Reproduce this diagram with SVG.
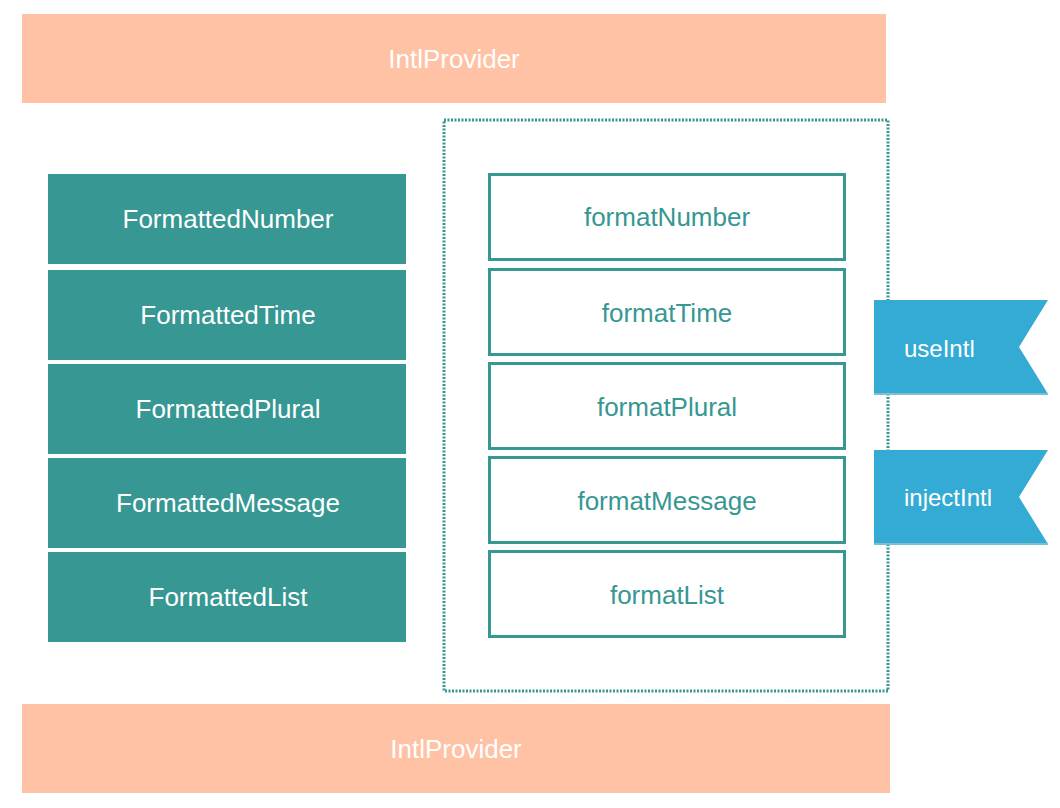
<svg xmlns="http://www.w3.org/2000/svg" width="1060" height="808" viewBox="0 0 1060 808">
<style>
text{font-family:"Liberation Sans",Arial,sans-serif;font-size:26px;text-anchor:middle;dominant-baseline:central}
.prov{fill:#FFC2A5}
.prov-t{fill:#ffffff}
.comp{fill:#369793}
.comp-t{fill:#ffffff}
.fn{fill:#ffffff;stroke:#369793;stroke-width:3}
.fn-t{fill:#369793}
.rib{fill:#33ABD5}
.rib-t{fill:#ffffff;text-anchor:start;font-size:24px}
.dash{fill:none;stroke:#369793;stroke-width:3;stroke-dasharray:2 1.5}
</style>
<rect width="1060" height="808" fill="#ffffff"/>
<g id="provider-top"><rect class="prov" x="22" y="14" width="864" height="89"/><text class="prov-t" x="454" y="59">IntlProvider</text></g>
<g id="provider-bottom"><rect class="prov" x="22" y="704" width="868" height="89"/><text class="prov-t" x="456" y="749">IntlProvider</text></g>
<g id="imperative-api"><rect class="dash" x="444" y="120" width="444" height="571"/></g>
<g id="FormattedNumber"><rect class="comp" x="48" y="174" width="358" height="90"/><text class="comp-t" x="228" y="219">FormattedNumber</text></g>
<g id="FormattedTime"><rect class="comp" x="48" y="270" width="358" height="90"/><text class="comp-t" x="228" y="315">FormattedTime</text></g>
<g id="FormattedPlural"><rect class="comp" x="48" y="364" width="358" height="90"/><text class="comp-t" x="228" y="409">FormattedPlural</text></g>
<g id="FormattedMessage"><rect class="comp" x="48" y="458" width="358" height="90"/><text class="comp-t" x="228" y="503">FormattedMessage</text></g>
<g id="FormattedList"><rect class="comp" x="48" y="552" width="358" height="90"/><text class="comp-t" x="228" y="597">FormattedList</text></g>
<g id="formatNumber"><rect class="fn" x="489.5" y="174.5" width="355" height="85"/><text class="fn-t" x="667" y="217">formatNumber</text></g>
<g id="formatTime"><rect class="fn" x="489.5" y="269.5" width="355" height="85"/><text class="fn-t" x="667" y="313">formatTime</text></g>
<g id="formatPlural"><rect class="fn" x="489.5" y="363.5" width="355" height="85"/><text class="fn-t" x="667" y="407">formatPlural</text></g>
<g id="formatMessage"><rect class="fn" x="489.5" y="457.5" width="355" height="85"/><text class="fn-t" x="667" y="501">formatMessage</text></g>
<g id="formatList"><rect class="fn" x="489.5" y="551.5" width="355" height="85"/><text class="fn-t" x="667" y="595">formatList</text></g>
<g id="useIntl"><polygon class="rib" points="874,300 1048,300 1019,347 1048,394 874,394"/><rect x="874" y="393" width="174" height="2" fill="#7FBFC9"/><text class="rib-t" x="904" y="348">useIntl</text></g>
<g id="injectIntl"><polygon class="rib" points="874,450 1048,450 1019,497 1048,544 874,544"/><rect x="874" y="543" width="174" height="2" fill="#7FBFC9"/><text class="rib-t" x="904" y="497">injectIntl</text></g>
<g id="connectors"></g>
</svg>
